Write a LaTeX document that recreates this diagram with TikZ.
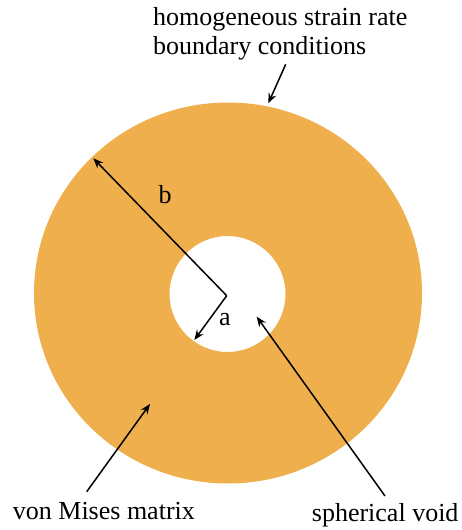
\documentclass[tikz,border=0pt]{standalone}
\usepackage{fontspec}
\setmainfont{Liberation Serif}
\usetikzlibrary{arrows.meta}
\definecolor{ringorange}{RGB}{240,175,77}
\begin{document}
\begin{tikzpicture}[x=1pt,y=-1pt,
  lbl/.style={inner sep=0pt,font=\fontsize{26}{29}\selectfont},
  ptr/.style={line width=1.5pt,-{Stealth[length=10pt,width=8pt]}}]
\useasboundingbox (0,0) rectangle (461,530);
% ring
\coordinate (C) at (228,293);
\coordinate (V) at (227.5,294);
\fill[ringorange,even odd rule] (C) ellipse [x radius=194,y radius=190.5] (V) circle [radius=58];
% radius arrows
\coordinate (O) at (226.7,295.7);
\coordinate (btip) at (93.3,158.3);
\coordinate (atip) at (194.3,340);
\draw[ptr] (O) -- (btip);
\draw[ptr] (O) -- (atip);
\node[lbl,anchor=base] (b) at (165,203.3) {b};
\node[lbl,anchor=base] (a) at (225,325.7) {a};
% top label
\node[lbl,anchor=base west] (hom1) at (153,25) {homogeneous strain rate};
\node[lbl,anchor=base west] (hom2) at (153,54) {boundary conditions};
\coordinate (ttail) at (285.7,64.3);
\coordinate (ttip) at (268.3,103.3);
\draw[ptr] (ttail) -- (ttip);
% von Mises
\node[lbl,anchor=base west] (vm) at (12.7,519.3) {von Mises matrix};
\coordinate (vmtail) at (86.7,491.7);
\coordinate (vmtip) at (150,404);
\draw[ptr] (vmtail) -- (vmtip);
% spherical void
\node[lbl,anchor=base west] (sv) at (311.7,521.5) {spherical void};
\coordinate (svtail) at (385,496);
\coordinate (svtip) at (256.7,316.7);
\draw[ptr] (svtail) -- (svtip);
\end{tikzpicture}
\end{document}
